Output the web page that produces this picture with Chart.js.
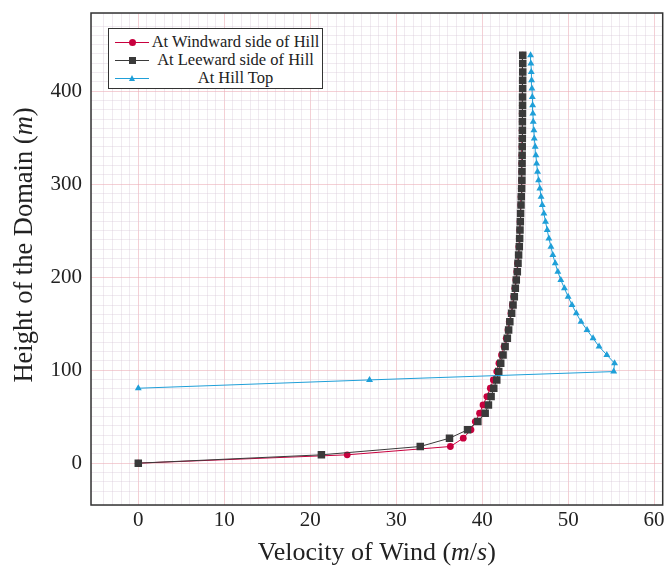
<!DOCTYPE html>
<html>
<head>
<meta charset="utf-8">
<script src="https://cdn.jsdelivr.net/npm/chart.js@4.4.1/dist/chart.umd.min.js"></script>
<style>
  body { margin: 0; background: #fff; }
  #wrap { position: relative; width: 668px; height: 567px; }
  #legenda { position: absolute; left: 108px; top: 28px; width: 213px; height: 59px; border: 1.5px solid #333; background: #fff; font-family: 'Liberation Serif', serif; font-size: 16.5px; color: #222; }
  .linha { position: absolute; left: 0; width: 100%; height: 18px; }
  .amostra { position: absolute; left: 6px; top: 9px; width: 34px; height: 1px; }
  .marca { position: absolute; }
  .texto { position: absolute; left: 42px; right: 2px; top: 0; text-align: center; line-height: 18px; white-space: nowrap; }
</style>
</head>
<body>
<div id="wrap">
  <canvas id="grafico" width="668" height="567"></canvas>
  <div id="legenda"></div>
</div>
<script>
// alturas (m) dos pontos de cada perfil
const alturas = [0, 8.95, 17.9, 26.85, 35.8, 44.75, 53.7, 62.65, 71.6, 80.55,
  89.5, 98.45, 107.4, 116.35, 125.3, 134.25, 143.2, 152.15, 161.1, 170.05,
  179, 187.95, 196.9, 205.85, 214.8, 223.75, 232.7, 241.65, 250.6, 259.55,
  268.5, 277.45, 286.4, 295.35, 304.3, 313.25, 322.2, 331.15, 340.1, 349.05,
  358, 366.95, 375.9, 384.85, 393.8, 402.75, 411.7, 420.65, 429.6, 438.55];

// velocidade (m/s) - lado de barlavento
const barlavento = [0, 24.3, 36.3, 37.8, 38.7, 39.2, 39.7, 40.1, 40.55, 40.95,
  41.3, 41.7, 41.95, 42.25, 42.55, 42.8, 43.0, 43.15, 43.35, 43.52,
  43.67, 43.8, 43.92, 44.03, 44.12, 44.2, 44.27, 44.32, 44.37, 44.41,
  44.45, 44.49, 44.52, 44.55, 44.58, 44.6, 44.61, 44.62, 44.63, 44.64,
  44.65, 44.66, 44.66, 44.67, 44.67, 44.68, 44.68, 44.69, 44.69, 44.7];

// velocidade (m/s) - lado de sotavento
const sotavento = [0, 21.3, 32.8, 36.2, 38.3, 39.5, 40.35, 40.73, 41.04, 41.35,
  41.7, 41.93, 42.16, 42.43, 42.67, 42.93, 43.08, 43.22, 43.43, 43.59,
  43.74, 43.86, 43.97, 44.09, 44.17, 44.24, 44.32, 44.36, 44.4, 44.44,
  44.47, 44.52, 44.55, 44.59, 44.62, 44.63, 44.64, 44.65, 44.66, 44.67,
  44.68, 44.68, 44.69, 44.7, 44.7, 44.71, 44.71, 44.72, 44.72, 44.72];

// velocidade (m/s) - topo do morro, comeca na altura alturas[9]
const inicioTopo = 9;
const topo = [0, 26.9, 55.3, 55.4, 54.5, 53.6, 52.9, 52.2, 51.5, 50.95,
  50.45, 50.0, 49.57, 49.15, 48.8, 48.5, 48.22, 48.0, 47.76, 47.57,
  47.37, 47.18, 46.99, 46.85, 46.71, 46.56, 46.44, 46.33, 46.25, 46.17,
  46.06, 46.02, 45.94, 45.9, 45.87, 45.83, 45.79, 45.75, 45.71, 45.67, 45.63];

const nomes = ['At Windward side of Hill', 'At Leeward side of Hill', 'At Hill Top'];
const cores = ['#c8003e', '#3a3a3a', '#1f9fd8'];
const ticksX = [0, 10, 20, 30, 40, 50, 60];
const ticksY = [0, 100, 200, 300, 400];

const fonte = '"Liberation Serif", "DejaVu Serif", serif';
const corMaior = 'rgba(235,170,178,0.55)';
const corMenor = 'rgba(215,200,215,0.38)';

var dadosBar = alturas.map((h, i) => ({ x: barlavento[i], y: h }));
var dadosSot = alturas.map((h, i) => ({ x: sotavento[i], y: h }));
var dadosTopo = topo.map((v, i) => ({ x: v, y: alturas[i + inicioTopo] }));

function escreverPartes(ctx, partes, x, y, tamanho) {
    var total = 0;
    partes.forEach(function (p) {
        ctx.font = (p[1] ? 'italic ' : '') + tamanho + 'px ' + fonte;
        total += ctx.measureText(p[0]).width;
    });
    var pos = x - total / 2;
    partes.forEach(function (p) {
        ctx.font = (p[1] ? 'italic ' : '') + tamanho + 'px ' + fonte;
        ctx.fillText(p[0], pos, y);
        pos += ctx.measureText(p[0]).width;
    });
}

const molduraETitulos = {
    id: 'molduraETitulos',
    afterDraw(chart) {
        const ctx = chart.ctx;
        const a = chart.chartArea;
        ctx.save();
        ctx.strokeStyle = '#333';
        ctx.lineWidth = 1.5;
        ctx.strokeRect(a.left, a.top, a.right - a.left, a.bottom - a.top);

        ctx.fillStyle = '#222';
        ctx.textBaseline = 'middle';
        ctx.textAlign = 'left';
        escreverPartes(ctx, [['Velocity of Wind (', false], ['m', true], ['/', false], ['s', true], [')', false]],
            (a.left + a.right) / 2, 553, 26);

        ctx.translate(25, 245);
        ctx.rotate(-Math.PI / 2);
        escreverPartes(ctx, [['Height of the Domain (', false], ['m', true], [')', false]], 0, 0, 26.5);
        ctx.restore();
    }
};

function corGrade(passoMaior) {
    return function (c) {
        if (!c.tick) return corMenor;
        var v = Math.round(c.tick.value * 1000) / 1000;
        return (v % passoMaior === 0) ? corMaior : corMenor;
    };
}

const config = {
    type: 'scatter',
    data: {
        datasets: [{
            label: nomes[0],
            data: dadosBar,
            showLine: true,
            borderColor: cores[0],
            backgroundColor: cores[0],
            borderWidth: 1,
            pointStyle: 'circle',
            pointRadius: 3.4,
            pointBorderWidth: 0,
            order: 3
        }, {
            label: nomes[1],
            data: dadosSot,
            showLine: true,
            borderColor: cores[1],
            backgroundColor: cores[1],
            borderWidth: 1,
            pointStyle: 'rect',
            pointRadius: 5.3,
            pointBorderWidth: 0,
            order: 2
        }, {
            label: nomes[2],
            data: dadosTopo,
            showLine: true,
            borderColor: cores[2],
            backgroundColor: cores[2],
            borderWidth: 1,
            pointStyle: 'triangle',
            pointRadius: 4,
            pointBorderWidth: 0,
            order: 1
        }]
    },
    options: {
        responsive: false,
        animation: false,
        // o chart.js reserva alguns px a direita, compensa com padding negativo
        layout: { padding: { top: 13, right: -2, left: 0, bottom: 0 } },
        plugins: {
            legend: { display: false },
            tooltip: { enabled: false }
        },
        scales: {
            x: {
                type: 'linear',
                min: -5.5,
                max: 61,
                afterFit: function (s) { s.height = 62; s.paddingLeft = 0; s.paddingRight = 0; },
                border: { display: false },
                grid: { color: corGrade(10), lineWidth: 1, drawTicks: false },
                ticks: {
                    stepSize: 1,
                    autoSkip: false,
                    maxRotation: 0,
                    padding: 3,
                    color: '#222',
                    font: { family: fonte, size: 21 },
                    callback: function (v) { return ticksX.includes(v) ? String(v) : ''; }
                }
            },
            y: {
                type: 'linear',
                min: -45,
                max: 484,
                afterFit: function (s) { s.width = 91; s.paddingTop = 0; s.paddingBottom = 0; },
                border: { display: false },
                grid: { color: corGrade(100), lineWidth: 1, drawTicks: false },
                ticks: {
                    stepSize: 10,
                    autoSkip: false,
                    padding: 9,
                    color: '#222',
                    font: { family: fonte, size: 21 },
                    callback: function (v) { return ticksY.includes(v) ? String(v) : ''; }
                }
            }
        }
    },
    plugins: [molduraETitulos]
};

const meuGrafico = new Chart(document.getElementById('grafico'), config);

// legenda em html, dentro da area do grafico
var legenda = document.getElementById('legenda');
var estilos = ['circulo', 'quadrado', 'triangulo'];
for (let i = 0; i < nomes.length; i++) {
    var linha = document.createElement('div');
    linha.className = 'linha';
    linha.style.top = (3.5 + i * 18.3) + 'px';
    legenda.appendChild(linha);

    var amostra = document.createElement('div');
    amostra.className = 'amostra';
    amostra.style.background = cores[i];
    linha.appendChild(amostra);

    var marca = document.createElement('div');
    marca.className = 'marca';
    if (estilos[i] == 'circulo') {
        marca.style.cssText = 'left:19.5px;top:6px;width:7px;height:7px;border-radius:50%;background:' + cores[i];
    } else if (estilos[i] == 'quadrado') {
        marca.style.cssText = 'left:19.5px;top:6px;width:7px;height:7px;background:' + cores[i];
    } else {
        marca.style.cssText = 'left:19.5px;top:5.5px;width:0;height:0;border-left:3.5px solid transparent;border-right:3.5px solid transparent;border-bottom:6px solid ' + cores[i];
    }
    linha.appendChild(marca);

    var texto = document.createElement('div');
    texto.className = 'texto';
    texto.innerHTML = nomes[i];
    linha.appendChild(texto);
}
</script>
</body>
</html>
